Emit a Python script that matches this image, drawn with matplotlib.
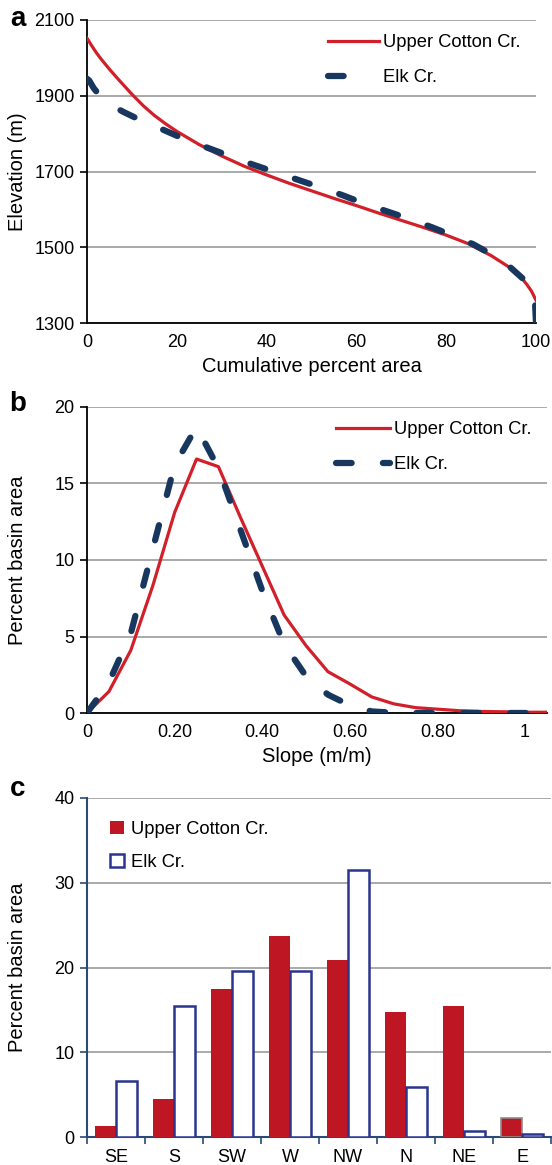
import matplotlib
matplotlib.use("Agg")
import matplotlib.pyplot as plt
import matplotlib.transforms as mtransforms
from matplotlib.lines import Line2D
from matplotlib.patches import Patch
import numpy as np

plt.rcParams['font.family'] = ['Liberation Sans', 'DejaVu Sans']

# ---------------- data ----------------
# Panel a: hypsometric curves
ucc_area = [0, 1, 2, 3, 5, 7, 10, 12.5, 15, 17.5, 20, 25, 30, 35, 40, 45, 50, 55, 60, 65, 70, 75, 80, 85, 90, 95, 97, 98, 99, 100]
ucc_elev = [2052, 2033, 2015, 1999, 1970, 1943, 1904, 1874, 1848, 1826, 1806, 1771, 1741, 1714, 1691, 1669, 1649, 1629, 1610, 1590, 1571, 1552, 1532, 1509, 1478, 1440, 1416, 1401, 1384, 1360]
elk_area = [0, 0.5, 1.5, 3, 5, 8, 12, 17, 22, 27, 32, 37, 42, 47, 52, 57, 62, 67, 72, 77, 82, 86, 90, 94, 97, 99, 99.8, 100]
elk_elev = [1945, 1940, 1920, 1898, 1878, 1858, 1835, 1810, 1784, 1762, 1740, 1718, 1698, 1678, 1658, 1637, 1614, 1594, 1574, 1552, 1528, 1508, 1482, 1450, 1418, 1392, 1350, 1300]

# Panel b: slope distributions
slope = [0, 0.05, 0.10, 0.15, 0.20, 0.25, 0.30, 0.35, 0.40, 0.45, 0.50, 0.55, 0.60, 0.65, 0.70, 0.75, 0.80, 0.85, 0.90, 0.95, 1.00, 1.05]
ucc_slope_pct = [0, 1.4, 4.1, 8.3, 13.1, 16.6, 16.1, 12.8, 9.6, 6.4, 4.4, 2.7, 1.9, 1.05, 0.6, 0.35, 0.25, 0.15, 0.1, 0.08, 0.05, 0.05]
elk_slope_pct = [0, 2.0, 5.2, 10.7, 16.2, 18.7, 16.0, 12.0, 8.0, 4.5, 2.4, 1.2, 0.5, 0.1, 0.02, 0, 0, 0, 0, 0, 0, 0]

# Panel c: aspect distributions
aspects = ['SE', 'S', 'SW', 'W', 'NW', 'N', 'NE', 'E']
ucc_aspect = [1.3, 4.5, 17.5, 23.7, 20.9, 14.7, 15.4, 2.2]
elk_aspect = [6.6, 15.4, 19.6, 19.6, 31.5, 5.9, 0.7, 0.4]

# ---------------- style ----------------
RED = '#d2202a'
NAVY = '#17375e'
BAR_RED = '#be1622'
BAR_BLUE = '#2b3590'
GRID = '#a3a3a3'
C_AXIS = '#2a4a78'
W, H = 552, 1165
TICK_FS = 13
LEG_FS = 13.2
LAB_FS = 14.5

fig = plt.figure(figsize=(W / 100, H / 100), dpi=100)


def ax_at(left, top, right, bottom):
    return fig.add_axes([left / W, 1 - bottom / H, (right - left) / W, (bottom - top) / H])


def style_line_axes(ax):
    for s in ['top', 'right']:
        ax.spines[s].set_visible(False)
    for s in ['left', 'bottom']:
        ax.spines[s].set_linewidth(1.3)
        ax.spines[s].set_color('black')
    ax.yaxis.grid(True, color=GRID, linewidth=1.3)
    ax.set_axisbelow(True)
    ax.tick_params(axis='y', direction='out', length=5, width=1.2, labelsize=TICK_FS, pad=4)
    ax.tick_params(axis='x', length=0, labelsize=TICK_FS, pad=8)


def ylabel_at(ax, text):
    ax.set_ylabel(text, fontsize=LAB_FS)
    tr = mtransforms.blended_transform_factory(fig.transFigure, ax.transAxes)
    ax.yaxis.set_label_coords(27 / W, 0.5, transform=tr)


ELK_LW = 4.5
elk_style = dict(color=NAVY, linewidth=ELK_LW, linestyle=(0, (2.5, 5.0)), dash_capstyle='round')

# ---------------- panel a ----------------
axa = ax_at(87, 20, 536, 323)
style_line_axes(axa)
axa.plot(ucc_area, ucc_elev, color=RED, linewidth=2.3, zorder=3)
axa.plot(elk_area, elk_elev, zorder=4, **elk_style)
axa.set_xlim(0, 100)
axa.set_ylim(1300, 2100)
axa.set_xticks([0, 20, 40, 60, 80, 100])
axa.set_yticks([1300, 1500, 1700, 1900, 2100])
axa.set_xlabel('Cumulative percent area', fontsize=LAB_FS, labelpad=4)
ylabel_at(axa, 'Elevation (m)')
ha_ucc = Line2D([], [], color=RED, linewidth=2.3)
ha_elk = Line2D([], [], color=NAVY, linewidth=ELK_LW, linestyle=(0, (2.5, 12.0)), dash_capstyle='round')
axa.legend([ha_ucc, ha_elk], ['Upper Cotton Cr.', 'Elk Cr.'], loc='upper left',
           bbox_to_anchor=(328 / W, 1 - 34 / H), bbox_transform=fig.transFigure,
           frameon=False, fontsize=LEG_FS, handlelength=2.8, handletextpad=0.2, labelspacing=1.0,
           borderpad=0, borderaxespad=0)
fig.text(18 / W, 1 - 19 / H, 'a', fontsize=20, fontweight='bold', ha='center', va='center')

# ---------------- panel b ----------------
axb = ax_at(87, 407, 547, 713)
style_line_axes(axb)
axb.plot(slope, ucc_slope_pct, color=RED, linewidth=2.3, label='Upper Cotton Cr.', zorder=3)
axb.plot(slope, elk_slope_pct, label='Elk Cr.', zorder=4, **elk_style)
axb.set_xlim(0, 1.05)
axb.set_ylim(0, 20)
axb.set_xticks([0, 0.2, 0.4, 0.6, 0.8, 1.0])
axb.set_xticklabels(['0', '0.20', '0.40', '0.60', '0.80', '1'])
axb.set_yticks([0, 5, 10, 15, 20])
axb.set_xlabel('Slope (m/m)', fontsize=LAB_FS, labelpad=4)
ylabel_at(axb, 'Percent basin area')
axb.legend(loc='upper left', bbox_to_anchor=(336 / W, 1 - 421 / H), bbox_transform=fig.transFigure,
           frameon=False, fontsize=LEG_FS, handlelength=2.95, handletextpad=0.2, labelspacing=1.0,
           borderpad=0, borderaxespad=0)
fig.text(18 / W, 1 - 404 / H, 'b', fontsize=20, fontweight='bold', ha='center', va='center')

# ---------------- panel c ----------------
axc = ax_at(87, 798, 551, 1137)
for s in ['top', 'right']:
    axc.spines[s].set_visible(False)
for s in ['left', 'bottom']:
    axc.spines[s].set_linewidth(1.5)
    axc.spines[s].set_color(C_AXIS)
axc.yaxis.grid(True, color=GRID, linewidth=1.3)
axc.set_axisbelow(True)
xpos = np.arange(len(aspects))
bw = 0.37
red_edges = ['none'] * (len(aspects) - 1) + ['#8c8c8c']
axc.bar(xpos - bw / 2, ucc_aspect, width=bw, color=BAR_RED, edgecolor=red_edges, linewidth=1.2,
        label='Upper Cotton Cr.', zorder=3)
axc.bar(xpos + bw / 2, elk_aspect, width=bw, color='white', edgecolor=BAR_BLUE, linewidth=1.8,
        label='Elk Cr.', zorder=3)
axc.set_xlim(-0.5, len(aspects) - 0.5)
axc.set_ylim(0, 40)
axc.set_yticks([0, 10, 20, 30, 40])
axc.set_xticks(xpos)
axc.set_xticklabels(aspects)
axc.set_xticks(np.arange(-0.5, len(aspects), 1.0), minor=True)
axc.tick_params(axis='x', which='major', length=0, labelsize=TICK_FS, pad=9)
axc.tick_params(axis='x', which='minor', length=5, width=1.2, color=C_AXIS, direction='out')
axc.tick_params(axis='y', direction='out', length=5, width=1.2, color=C_AXIS, labelsize=TICK_FS, pad=4)
ylabel_at(axc, 'Percent basin area')
handles = [Patch(facecolor=BAR_RED, edgecolor='none'),
           Patch(facecolor='white', edgecolor=BAR_BLUE, linewidth=1.8)]
axc.legend(handles, ['Upper Cotton Cr.', 'Elk Cr.'], loc='upper left',
           bbox_to_anchor=(110 / W, 1 - 821 / H), bbox_transform=fig.transFigure,
           frameon=False, fontsize=LEG_FS, handlelength=0.75, handleheight=0.75,
           handletextpad=0.4, labelspacing=0.85, borderpad=0, borderaxespad=0)
fig.text(18 / W, 1 - 789 / H, 'c', fontsize=20, fontweight='bold', ha='center', va='center')

fig.savefig('out.png', dpi=100)
